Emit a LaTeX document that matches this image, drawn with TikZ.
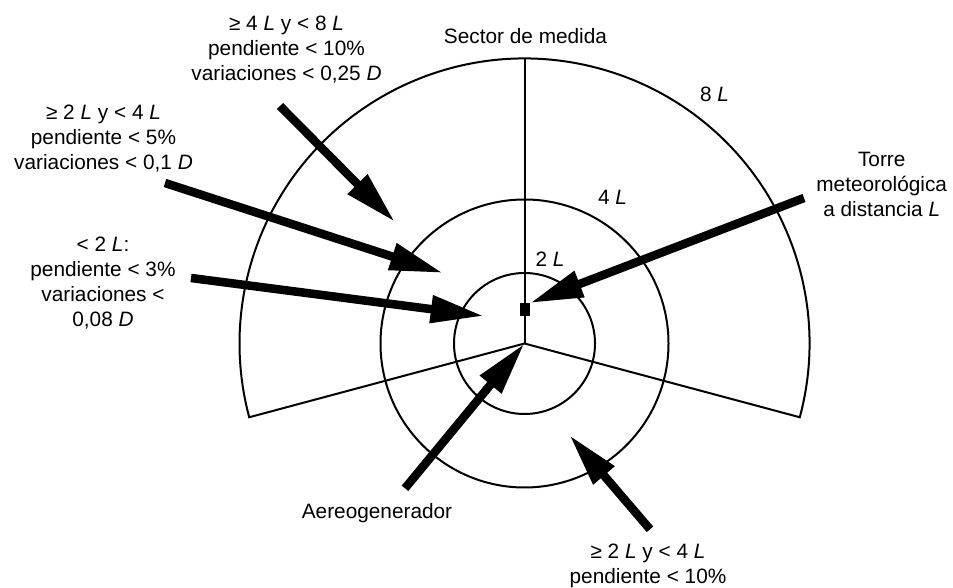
\documentclass[tikz,border=0pt]{standalone}
\usepackage{fontspec}
\setmainfont{Liberation Sans}
\usetikzlibrary{arrows.meta}
\begin{document}
\begin{tikzpicture}[x=0.75pt,y=0.75pt,
  lbl/.style={inner sep=0pt, anchor=base, align=center, font=\fontsize{15.6pt}{18.75pt}\selectfont},
  geom/.style={line width=1.5pt, line join=miter},
  bigarrow/.style={line width=6.4pt, -{Triangle[length=40pt,width=19.5pt]}}]
\useasboundingbox (0,0) rectangle (953,588);
\coordinate (C) at (524.5,244.5);
% sector and circles
\draw[geom] (C) -- ++(-15:285) arc[start angle=-15, end angle=195, radius=285] -- cycle;
\draw[geom] (C) circle[radius=144];
\draw[geom] (C) circle[radius=70.5];
\draw[geom] (C) -- ++(0,285);
\node[fill=black, inner sep=0pt, minimum width=7.5pt, minimum height=9.5pt] (tw) at (524.5,278.3) {};
% labels (multi-line: base = last line's baseline)
\node[lbl] (l48) at (286.5,507) {≥ 4 \textit{L} y < 8 \textit{L}\\pendiente < 10\%\\variaciones < 0,25 \textit{D}};
\node[lbl] (l24) at (103.5,418) {≥ 2 \textit{L} y < 4 \textit{L}\\pendiente < 5\%\\variaciones < 0,1 \textit{D}};
\node[lbl] (l2) at (103,261.3) {< 2 \textit{L}:\\pendiente < 3\%\\variaciones <\\0,08 \textit{D}};
\node[lbl] (torre) at (881.7,371.3) {Torre\\meteorológica\\a distancia \textit{L}};
\node[lbl] (sector) at (525.5,544.7) {Sector de medida};
\node[lbl] (r8) at (714.5,486.3) {8 \textit{L}};
\node[lbl] (r4) at (612.5,383) {4 \textit{L}};
\node[lbl] (r2) at (550,321.3) {2 \textit{L}};
\node[lbl] (aero) at (377,69.7) {Aereogenerador};
\node[lbl] (lb) at (648,4.7) {≥ 2 \textit{L} y < 4 \textit{L}\\pendiente < 10\%};
% arrow tails and tips
\coordinate (a1s) at (280,482);
\coordinate (a1t) at (395,366);
\coordinate (a2s) at (165,405);
\coordinate (a2t) at (443,315);
\coordinate (a3s) at (191,310);
\coordinate (a3t) at (484,272);
\coordinate (a4s) at (804,390);
\coordinate (a5s) at (405,99.7);
\coordinate (a6s) at (650,58.7);
\coordinate (a6t) at (569.3,153);
\draw[bigarrow] (a1s) -- (a1t);
\draw[bigarrow] (a2s) -- (a2t);
\draw[bigarrow] (a3s) -- (a3t);
\draw[bigarrow] (a4s) -- (tw.north east);
\draw[bigarrow] (a5s) -- (C);
\draw[bigarrow] (a6s) -- (a6t);
\end{tikzpicture}
\end{document}
